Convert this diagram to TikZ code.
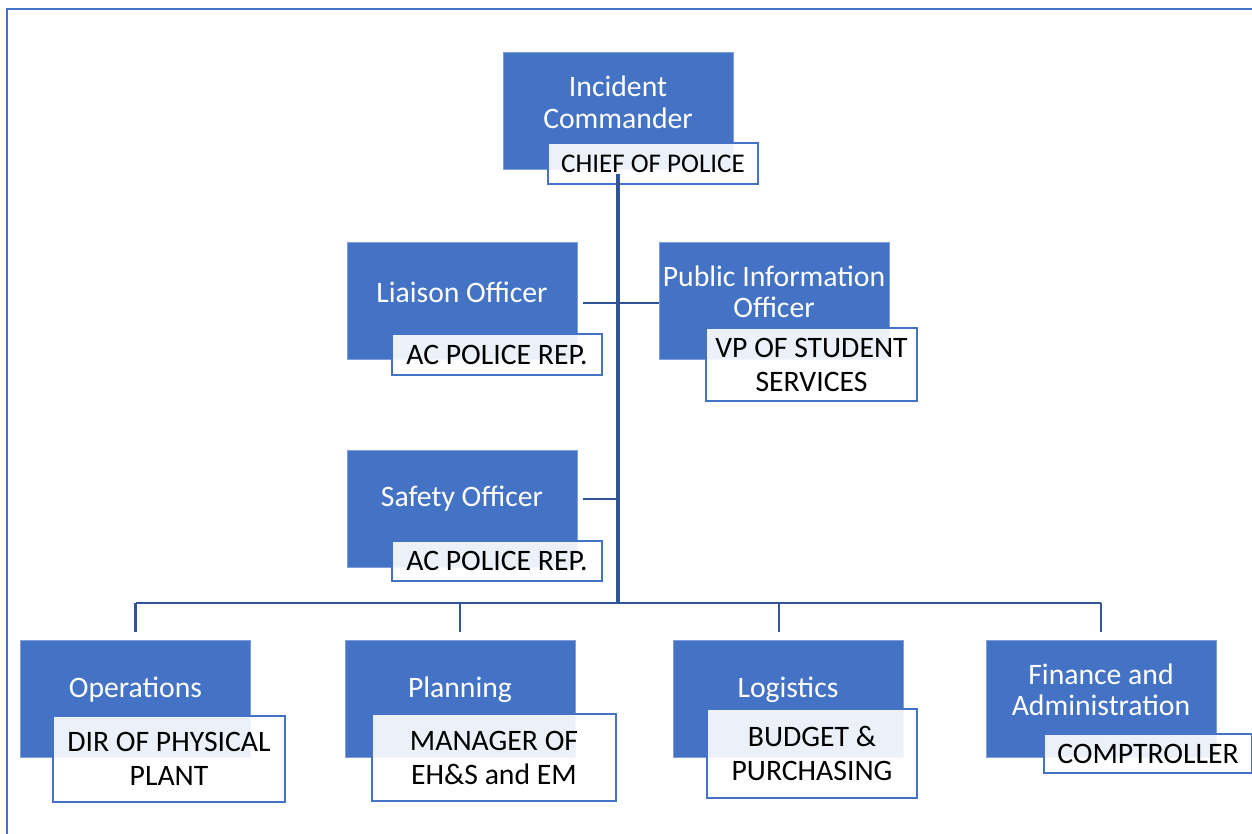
\documentclass[tikz,border=0pt]{standalone}
\usepackage{fontspec}
\setmainfont{Carlito}
\definecolor{boxblue}{HTML}{4472C4}
\definecolor{linkblue}{HTML}{2F5597}
\definecolor{edgeblue}{HTML}{7F9FD8}
\begin{document}
\begin{tikzpicture}[x=1pt,y=-1pt,
 rolebox/.style={rectangle, fill=boxblue, draw=edgeblue, line width=0.6pt, minimum width=230pt, minimum height=117pt, inner sep=0pt},
 roletext/.style={text=white, font=\fontsize{29.7}{31.5}\selectfont, align=center, inner sep=0pt},
 namebox/.style={rectangle, draw=boxblue, line width=2pt, fill=white, fill opacity=0.9, text opacity=1, text=black, font=\fontsize{29.7}{34}\selectfont, align=center, inner sep=0pt},
 trunk/.style={draw=linkblue, line width=4.5pt},
 link/.style={draw=linkblue, line width=2.5pt},
 bus/.style={draw=linkblue, line width=2pt},
 frame/.style={draw=boxblue, line width=2.5pt}]
\useasboundingbox (0,0) rectangle (1252,834);
\coordinate (fbl) at (7,834);
\coordinate (ftl) at (7,9);
\coordinate (ftr) at (1252,9);
\draw[frame] (fbl) -- (ftl) -- (ftr);

% top
\node[rolebox] (ic) at (618,110.5) {};
\node[roletext] (ict) at ([yshift=8pt]ic.center) {Incident\\Commander};
\node[namebox, minimum width=210pt, minimum height=41pt, font=\fontsize{27}{32}\selectfont] (chief) at (653,163.5) {\raisebox{-2pt}{CHIEF OF POLICE}};

% staff
\node[rolebox] (lia) at (462,300.5) {};
\node[roletext] (liat) at ([yshift=8.5pt]lia.center) {Liaison Officer};
\node[namebox, minimum width=210pt, minimum height=41pt] (lrep) at (497,354.5) {\raisebox{-2pt}{AC POLICE REP.}};

\node[rolebox] (pio) at (774,300.5) {};
\node[roletext] (piot) at ([yshift=8.5pt]pio.center) {Public Information\\Officer};
\node[namebox, minimum width=211pt, minimum height=73pt] (vp) at (811.5,364.5) {VP OF STUDENT\\SERVICES};

\node[rolebox] (saf) at (462,508.5) {};
\node[roletext] (saft) at ([yshift=9.5pt]saf.center) {Safety Officer};
\node[namebox, minimum width=210pt, minimum height=40pt] (srep) at (497,561) {\raisebox{-2pt}{AC POLICE REP.}};

% sections
\node[rolebox] (ops) at (135.5,698.5) {};
\node[roletext] (opst) at ([yshift=8.5pt]ops.center) {Operations};
\node[namebox, minimum width=232pt, minimum height=86pt] (dir) at (169,759) {DIR OF PHYSICAL\\PLANT};

\node[rolebox] (pla) at (460,698.5) {};
\node[roletext] (plat) at ([yshift=8.5pt]pla.center) {Planning};
\node[namebox, minimum width=244pt, minimum height=87pt] (man) at (494,757.5) {MANAGER OF\\EH\&S and EM};

\node[rolebox] (log) at (788,698.5) {};
\node[roletext] (logt) at ([yshift=8.5pt]log.center) {Logistics};
\node[namebox, minimum width=210pt, minimum height=89pt] (bud) at (812,753.5) {BUDGET \&\\PURCHASING};

\node[rolebox] (fin) at (1101,698.5) {};
\node[roletext] (fint) at ([yshift=8.5pt]fin.center) {Finance and\\Administration};
\node[namebox, minimum width=208pt, minimum height=39pt] (comp) at (1148,753.5) {COMPTROLLER};

% connectors
\coordinate (ttop) at ([yshift=-5pt]ic.south);
\coordinate (tbot) at (618,603);
\draw[trunk] (ttop) -- (tbot);
\draw[link] ([xshift=6pt,yshift=-2.5pt]lia.east) -- ([yshift=-2.5pt]pio.west);
\coordinate (sc) at ([xshift=6pt,yshift=9.5pt]saf.east);
\draw[link] (sc) -- (sc -| tbot);
\draw[bus] (ops.north |- tbot) -- (fin.north |- tbot);
\draw[link] (ops.north |- tbot) -- ([yshift=8pt]ops.north);
\draw[link] (pla.north |- tbot) -- ([yshift=8pt]pla.north);
\coordinate (logtop) at ([xshift=-9pt,yshift=8pt]log.north);
\draw[link] (logtop |- tbot) -- (logtop);
\draw[link] (fin.north |- tbot) -- ([yshift=8pt]fin.north);
\end{tikzpicture}
\end{document}
